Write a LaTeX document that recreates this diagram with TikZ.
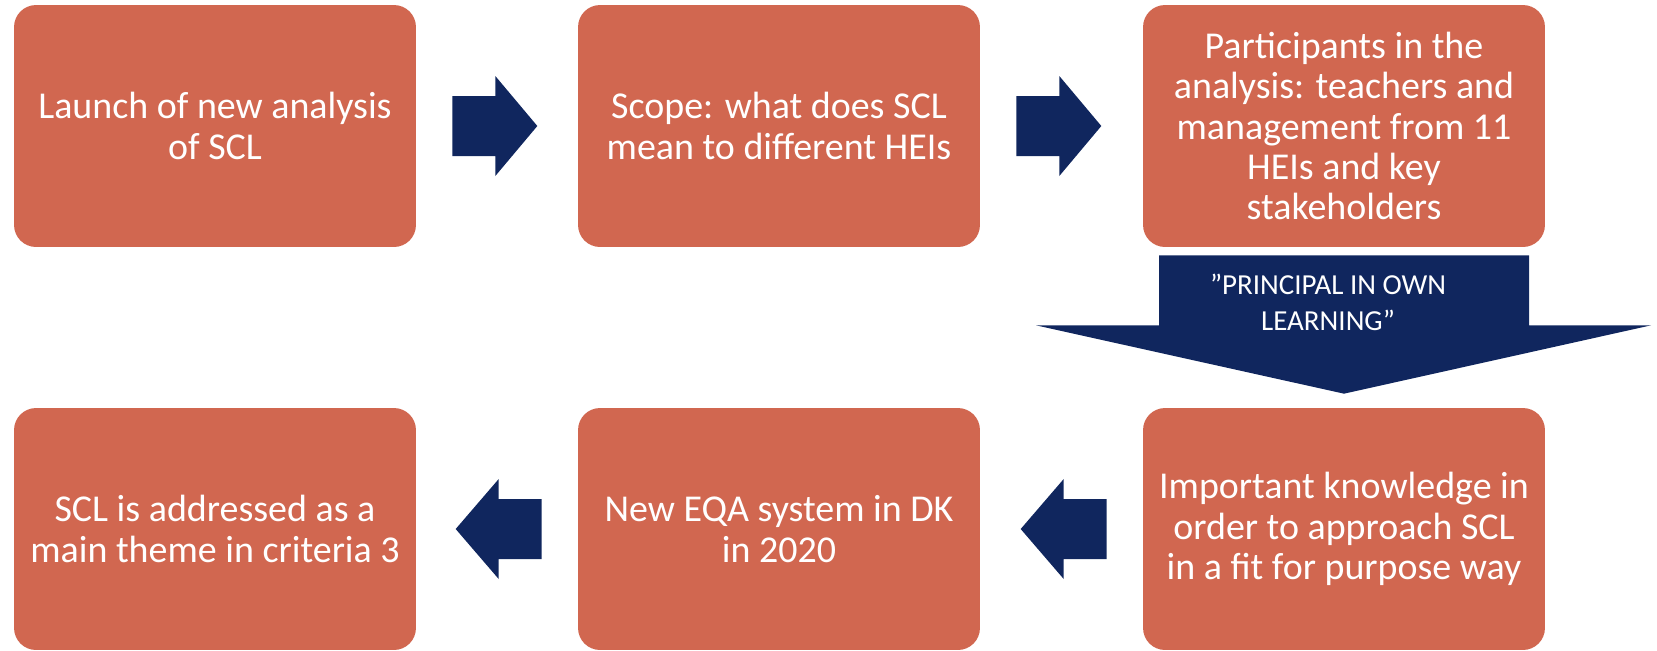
\documentclass[tikz,border=0pt]{standalone}
\usepackage{fontspec}
\setmainfont{Carlito}
\usetikzlibrary{calc}

\definecolor{boxorange}{RGB}{209,103,80}
\definecolor{navy}{RGB}{16,38,94}

\begin{document}
\begin{tikzpicture}[
		x = 0.02cm,
		y = -0.02cm,
		box/.style = {
			fill = boxorange,
			rounded corners = 0.44cm,
			minimum width = 8.04cm,
			minimum height = 4.84cm,
			text = white,
			align = center,
			font = \fontsize{21.6}{23}\selectfont
		},
		blk/.style = {
			fill = navy
		}
	]
	\useasboundingbox (0,0) rectangle (1657,650);

	% top row
	\node [box] (launch) at (215,126) {Launch of new analysis\\of SCL};
	\node [box] (scope) at (779,126) {Scope: what does SCL\\mean to different HEIs};
	\node [box] (part) at (1344,126) {Participants in the\\analysis: teachers and\\management from 11\\HEIs and key\\stakeholders};

	% bottom row
	\node [box] (theme) at (215,529) {SCL is addressed as a\\main theme in criteria 3};
	\node [box] (eqa) at (779,529) {New EQA system in DK\\in 2020};
	\node [box] (know) at (1344,529) {Important knowledge in\\order to approach SCL\\in a fit for purpose way};

	% block arrows to the right
	\foreach \a in {launch, scope}
		\fill [blk] ($(\a.east)+(36,-30)$) -- ++(43,0) -- ++(0,-20) -- ++(42,50)
			-- ++(-42,50) -- ++(0,-20) -- ++(-43,0) -- cycle;

	% block arrows to the left
	\foreach \a in {eqa, know}
		\fill [blk] ($(\a.west)+(-36,-30)$) -- ++(-43,0) -- ++(0,-20) -- ++(-43,50)
			-- ++(43,50) -- ++(0,-20) -- ++(43,0) -- cycle;

	% big arrow down
	\fill [blk] ($(part.south)+(-185,8)$) -- ++(370,0) -- ++(0,70) -- ++(122,0)
		-- ($(know.north)+(0,-14)$) -- ($(part.south)+(-308,78)$) -- ++(123,0) -- cycle;
	\node [text = white, align = center, font = \fontsize{16.5}{20.5}\selectfont]
		(motto) at ($(part.south)+(-16,55)$) {”PRINCIPAL IN OWN\\LEARNING”};
\end{tikzpicture}
\end{document}
